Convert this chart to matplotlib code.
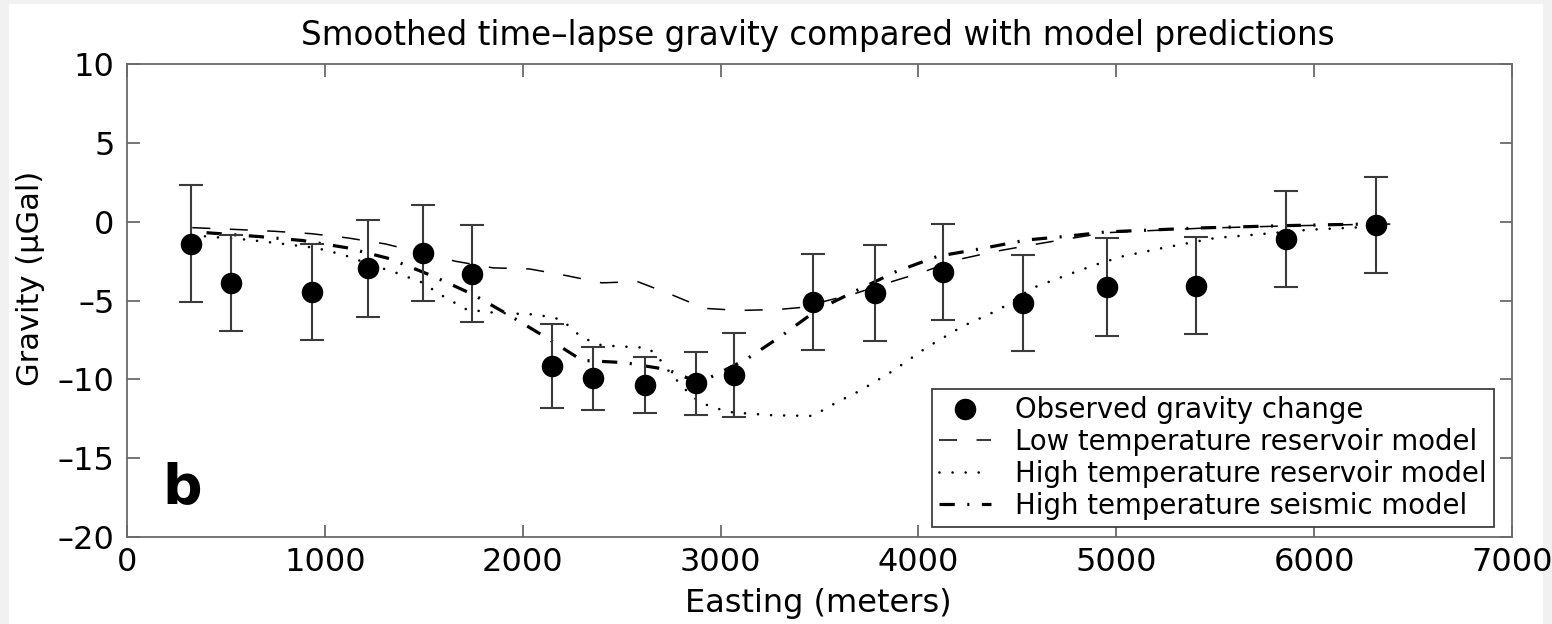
import matplotlib
matplotlib.use("Agg")
import matplotlib.pyplot as plt
from matplotlib.patches import Rectangle

plt.rcParams['font.family'] = ['DejaVu Sans']
plt.rcParams['lines.scale_dashes'] = False

# Observed gravity change
obs_x = [323, 525, 934, 1217, 1497, 1746, 2150, 2355, 2620, 2877, 3067,
         3467, 3780, 4125, 4530, 4955, 5404, 5857, 6311]
obs_y = [-1.39, -3.9, -4.47, -2.97, -1.98, -3.29, -9.16, -9.94, -10.36, -10.25, -9.72,
         -5.08, -4.54, -3.21, -5.18, -4.16, -4.05, -1.10, -0.21]
obs_err = [3.72, 3.05, 3.05, 3.05, 3.05, 3.05, 2.65, 2.0, 1.75, 2.0, 2.65,
           3.05, 3.05, 3.05, 3.05, 3.1, 3.05, 3.05, 3.05]

# Low temperature reservoir model
low_x = [330, 560, 745, 930, 1115, 1305, 1480, 1660, 1850, 2035, 2220, 2400, 2580,
         2750, 2920, 3100, 3290, 3400, 3680, 3845, 4010, 4200, 4375, 4560, 4750,
         4950, 5420, 5860, 6260, 6400]
low_y = [-0.38, -0.5, -0.61, -0.76, -1.03, -1.41, -1.95, -2.51, -2.93, -3.0, -3.42,
         -3.88, -3.8, -4.62, -5.5, -5.63, -5.57, -5.45, -4.56, -3.88, -3.25, -2.41,
         -1.92, -1.5, -1.1, -0.7, -0.42, -0.27, -0.17, -0.15]

# High temperature reservoir model
high_x = [394, 605, 750, 958, 1093, 1227, 1362, 1488, 1598, 1716, 1859, 2069, 2195,
          2298, 2400, 2630, 2672, 2760, 2806, 2850, 2908, 2961, 3062, 3264, 3466,
          3584, 3702, 3870, 4039, 4224, 4409, 4578, 4780, 4898, 5032, 5234, 5503,
          5705, 5975, 6263, 6400]
high_y = [-0.93, -1.14, -1.35, -1.67, -2.1, -2.7, -3.25, -3.84, -4.73, -5.57, -5.78,
          -5.89, -6.2, -7.34, -7.85, -8.0, -8.4, -9.83, -10.4, -11.05, -11.5, -11.79,
          -12.1, -12.28, -12.32, -11.48, -10.74, -9.47, -8.0, -6.63, -5.57, -4.2,
          -3.25, -2.72, -2.2, -1.67, -1.03, -0.82, -0.51, -0.34, -0.3]

# High temperature seismic model
seis_x = [402, 672, 890, 1109, 1328, 1547, 1749, 1934, 2120, 2300, 2515, 2726, 2870,
          2944, 3130, 3306, 3488, 3690, 3885, 4096, 4318, 4547, 4747, 4948, 5419,
          5857, 6256, 6400]
seis_y = [-0.7, -0.95, -1.2, -1.65, -2.35, -3.46, -4.62, -5.95, -7.36, -8.8, -8.94,
          -9.37, -10.1, -9.9, -8.73, -7.26, -5.6, -4.35, -3.18, -2.2, -1.71, -1.16,
          -0.93, -0.65, -0.4, -0.25, -0.15, -0.12]

labels = ["Observed gravity change", "Low temperature reservoir model",
          "High temperature reservoir model", "High temperature seismic model"]
x_ticks = [0, 1000, 2000, 3000, 4000, 5000, 6000, 7000]
y_ticks = [-20, -15, -10, -5, 0, 5, 10]

W, H = 1552, 624
fig = plt.figure(figsize=(W / 100, H / 100), dpi=100, facecolor='#f1f1f1')
fig.patches.append(Rectangle((9 / W, 0), (1543 - 9) / W, 1 - 4 / H,
                             transform=fig.transFigure, facecolor='white',
                             edgecolor='none', zorder=-10))

L, R, T, B = 127, 1512, 64, 537
ax = fig.add_axes([L / W, 1 - B / H, (R - L) / W, (B - T) / H])
ax.set_facecolor('white')

frame_col = '#6a6a6a'
for s in ax.spines.values():
    s.set_color(frame_col)
    s.set_linewidth(1.3)

h_low, = ax.plot(low_x, low_y, color='black', lw=1.1, linestyle=(0, (13, 14)), zorder=3)
h_high, = ax.plot(high_x, high_y, color='black', lw=1.9, linestyle=(0, (0.01, 9.4)),
                  dash_capstyle='round', zorder=3)
h_seis, = ax.plot(seis_x, seis_y, color='black', lw=2.3,
                  linestyle=(0, (11, 9, 1.5, 9)), zorder=3)

ax.errorbar(obs_x, obs_y, yerr=obs_err, fmt='none', ecolor='#3a3a3a',
            elinewidth=1.5, capsize=8.6, capthick=1.5, zorder=4)
h_obs, = ax.plot(obs_x, obs_y, 'o', color='black', ms=14.5, zorder=5)

ax.set_xlim(0, 7000)
ax.set_ylim(-20, 10)
ax.set_xticks(x_ticks)
ax.set_yticks(y_ticks)
ax.set_xticklabels([str(v) for v in x_ticks])
ax.set_yticklabels([str(v).replace('-', '\u2013') for v in y_ticks])
ax.tick_params(direction='in', length=9, width=1.3, color=frame_col,
               top=True, right=True, labelsize=23, labelcolor='black')
ax.tick_params(axis='x', pad=7)
ax.tick_params(axis='y', pad=9)

fig.text(818 / W, 1 - 45 / H, "Smoothed time\u2013lapse gravity compared with model predictions",
         ha='center', va='baseline', fontsize=23.5)
fig.text(818 / W, 1 - 612 / H, "Easting (meters)", ha='center', va='baseline', fontsize=23)
fig.text(31 / W, 1 - 278 / H, "Gravity (\u00b5Gal)", ha='center', va='center',
         rotation=90, fontsize=22)
ax.text(162 / W, 1 - 503 / H, "b", transform=fig.transFigure, ha='left',
        va='baseline', fontsize=40, fontweight='bold')

leg = ax.legend([h_obs, h_low, h_high, h_seis], labels,
                loc='upper left', bbox_to_anchor=(932 / W, 1 - 389 / H),
                bbox_transform=fig.transFigure, borderaxespad=0,
                fontsize=19.8, frameon=True, fancybox=False, framealpha=1,
                edgecolor='#404040', handlelength=1.9, handletextpad=0.85,
                borderpad=0.26, labelspacing=0.14, numpoints=1)
leg.get_frame().set_linewidth(1.3)

fig.savefig("out.png", dpi=100, facecolor=fig.get_facecolor())
